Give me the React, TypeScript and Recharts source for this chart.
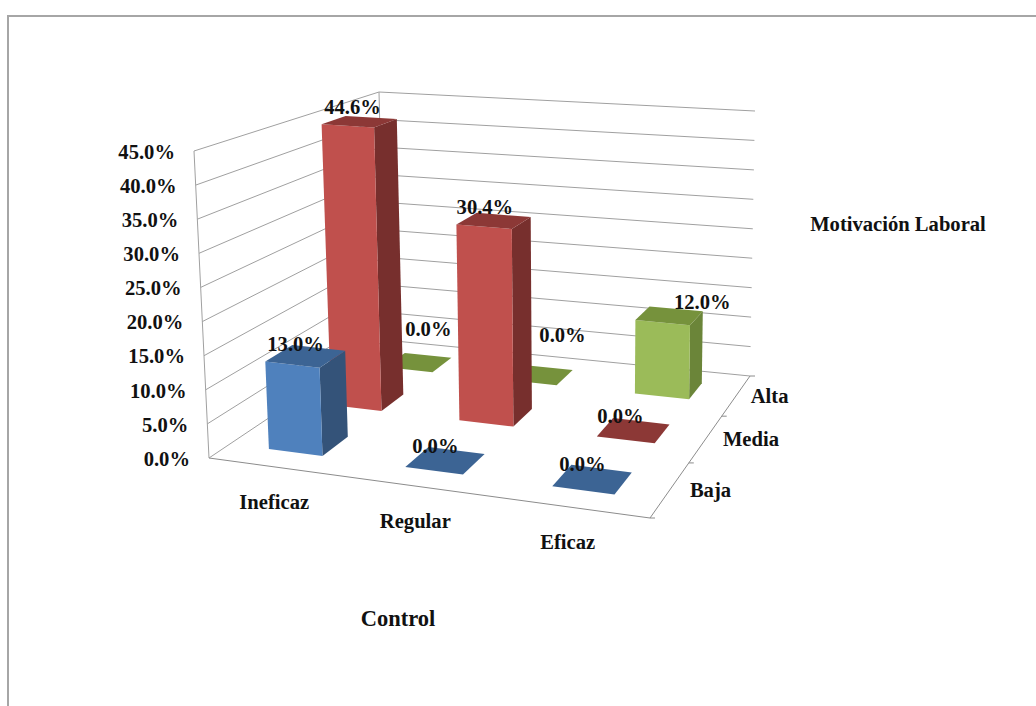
import { BarChart, Bar, XAxis, YAxis, CartesianGrid, LabelList } from "recharts";

const controlLevels = ["Ineficaz", "Regular", "Eficaz"];
const motivationLevels = ["Baja", "Media", "Alta"];
const bajaValues = [13.0, 0, 0];
const mediaValues = [44.6, 30.4, 0];
const altaValues = [0, 0, 12.0];
const yTicks = [0, 5, 10, 15, 20, 25, 30, 35, 40, 45];

const chartData = controlLevels.map((control, i) => ({
  control,
  depth: motivationLevels[i],
  Baja: bajaValues[i],
  Media: mediaValues[i],
  Alta: altaValues[i],
}));

// painted back to front so nearer boxes cover farther ones
const rows = [
  { key: "Alta", row: 2, front: "#9BBB59", side: "#6B8539", top: "#76923C" },
  { key: "Media", row: 1, front: "#C0504D", side: "#772F2D", top: "#8C3836" },
  { key: "Baja", row: 0, front: "#4F81BD", side: "#345379", top: "#3C6494" },
];

// label offset from the centre of a box's top face, by motivation row then control column
const labelOffsets: [number, number][][] = [
  [[-10, -10], [-10, -12], [-10, -13]],
  [[-7, -12], [-9, -11], [-13, -12]],
  [[10, -31], [23, -38], [33, -11]],
];

const PLOT = { left: 209, top: 151, width: 441, height: 307 };
const BAND = PLOT.width / controlLevels.length;
const BAR_SIZE = Math.round(BAND * 0.4);
const DEPTH_FILL = 0.41;
const TEXT = { fontFamily: "'Liberation Serif', serif", fontWeight: 700, fontSize: 20.6, fill: "#111" };

type Pt = [number, number];

// unit square -> quad, corners ordered front-left, front-right, back-right, back-left
const quadMap = ([p0, p1, p2, p3]: Pt[]) => {
  const dx1 = p1[0] - p2[0];
  const dx2 = p3[0] - p2[0];
  const sx = p0[0] - p1[0] + p2[0] - p3[0];
  const dy1 = p1[1] - p2[1];
  const dy2 = p3[1] - p2[1];
  const sy = p0[1] - p1[1] + p2[1] - p3[1];
  const den = dx1 * dy2 - dx2 * dy1;
  const g = (sx * dy2 - dx2 * sy) / den;
  const h = (dx1 * sy - sx * dy1) / den;
  const a = p1[0] - p0[0] + g * p1[0];
  const b = p3[0] - p0[0] + h * p3[0];
  const d = p1[1] - p0[1] + g * p1[1];
  const e = p3[1] - p0[1] + h * p3[1];
  return (u: number, v: number): Pt => {
    const w = g * u + h * v + 1;
    return [(a * u + b * v + p0[0]) / w, (d * u + e * v + p0[1]) / w];
  };
};

const floor = quadMap([[209, 458], [650, 518], [750, 376], [385, 340]]);
// how far the full value height reaches up from each floor corner
const rise: Pt[] = [[-15, -307], [4, -328], [5, -265], [-6, -248]];

// u along control, d along motivation, h along the value axis, all 0..1
const project = (u: number, d: number, h: number): Pt => {
  const base = floor(u, d);
  const weights = [(1 - u) * (1 - d), u * (1 - d), u * d, (1 - u) * d];
  const rx = weights.reduce((sum, w, i) => sum + w * rise[i][0], 0);
  const ry = weights.reduce((sum, w, i) => sum + w * rise[i][1], 0);
  return [base[0] + rx * h, base[1] + ry * h];
};

const poly = (pts: Pt[]) => pts.map((p) => `${p[0].toFixed(1)},${p[1].toFixed(1)}`).join(" ");

const boxRange = (x: number, width: number, height: number, row: number) => {
  const u0 = (x - PLOT.left) / PLOT.width;
  const u1 = (x + width - PLOT.left) / PLOT.width;
  const d0 = (row + (1 - DEPTH_FILL) / 2) / 3;
  const d1 = d0 + DEPTH_FILL / 3;
  return { u0, u1, d0, d1, h: height / PLOT.height };
};

const Box3D = ({ x, width, height, row, front, side, top }: any) => {
  const { u0, u1, d0, d1, h } = boxRange(x, width, height, row);
  return (
    <g>
      <polygon points={poly([project(u1, d0, 0), project(u1, d1, 0), project(u1, d1, h), project(u1, d0, h)])} fill={side} />
      <polygon points={poly([project(u0, d0, 0), project(u1, d0, 0), project(u1, d0, h), project(u0, d0, h)])} fill={front} />
      <polygon points={poly([project(u0, d0, h), project(u1, d0, h), project(u1, d1, h), project(u0, d1, h)])} fill={top} />
    </g>
  );
};

const BoxLabel = ({ x, width, height, value, row }: any) => {
  const { u0, u1, d0, d1, h } = boxRange(x, width, height, row);
  const [cx, cy] = project((u0 + u1) / 2, (d0 + d1) / 2, h);
  const [dx, dy] = labelOffsets[row][Math.floor((x - PLOT.left) / BAND)];
  return (
    <text {...TEXT} x={cx + dx} y={cy + dy} textAnchor="middle" dominantBaseline="middle">
      {`${Number(value).toFixed(1)}%`}
    </text>
  );
};

const WALL_LINE = "#a0a0a0";
const FLOOR_LINE = "#8c8c8c";

// each value gridline folds over the left wall and the back wall
const WallLine = ({ y1 }: any) => {
  const h = (PLOT.top + PLOT.height - y1) / PLOT.height;
  const line = (
    <polyline
      points={poly([project(0, 0, h), project(0, 1, h), project(1, 1, h)])}
      fill="none"
      stroke={WALL_LINE}
      strokeWidth={1}
    />
  );
  if (h > 0.999) {
    return (
      <g>
        {line}
        <polyline points={poly([project(0, 0, 1), project(0, 0, 0)])} fill="none" stroke={WALL_LINE} strokeWidth={1} />
        <polyline points={poly([project(0, 1, 1), project(0, 1, 0)])} fill="none" stroke={WALL_LINE} strokeWidth={1} />
      </g>
    );
  }
  if (h < 0.001) {
    return (
      <g>
        {line}
        <polyline points={poly([project(0, 0, 0), project(1, 0, 0), project(1, 1, 0)])} fill="none" stroke={FLOOR_LINE} strokeWidth={1} />
        {[0, 1 / 3, 2 / 3, 1].map((d) => {
          const p = project(1, d, 0);
          return <line key={d} x1={p[0]} y1={p[1]} x2={p[0] + 5} y2={p[1]} stroke={FLOOR_LINE} />;
        })}
      </g>
    );
  }
  return line;
};

const ValueTick = ({ y, payload }: any) => {
  const [px] = project(0, 0, (PLOT.top + PLOT.height - y) / PLOT.height);
  return (
    <text {...TEXT} x={px - 19} y={y + 3} textAnchor="end" dominantBaseline="middle">
      {`${payload.value.toFixed(1)}%`}
    </text>
  );
};

const ControlTick = ({ x, payload }: any) => {
  const [px, py] = project((x - PLOT.left) / PLOT.width, 0, 0);
  return (
    <text {...TEXT} x={px - 1.5} y={py + 37} textAnchor="middle" dominantBaseline="middle">
      {payload.value}
    </text>
  );
};

const DepthTick = ({ x, payload }: any) => {
  const d = (x - PLOT.left) / PLOT.width;
  const [px, py] = project(1, d, 0);
  return (
    <text {...TEXT} x={px + 21 - 8 * d} y={py + 2.5} textAnchor="start" dominantBaseline="middle">
      {payload.value}
    </text>
  );
};

export default function App() {
  return (
    <div style={{ position: "absolute", left: 0, top: 0, width: 1036, height: 706, overflow: "hidden", background: "#fff" }}>
      <div
        style={{
          position: "absolute",
          left: 7,
          top: 15,
          width: 1100,
          height: 800,
          borderTop: "2px solid #a6a6a6",
          borderLeft: "2px solid #a6a6a6",
        }}
      />
      <BarChart
        width={1036}
        height={706}
        data={chartData}
        barSize={BAR_SIZE}
        barGap={-BAR_SIZE}
        margin={{
          left: PLOT.left - 1,
          top: PLOT.top - 1,
          right: 1036 - PLOT.left - PLOT.width,
          bottom: 706 - PLOT.top - PLOT.height - 1,
        }}
        style={{ position: "absolute", left: 0, top: 0 }}
      >
        <CartesianGrid vertical={false} horizontal={(p: any) => <WallLine {...p} />} />
        <XAxis xAxisId="control" dataKey="control" height={1} axisLine={false} tickLine={false} interval={0} tick={(p: any) => <ControlTick {...p} />} />
        <XAxis xAxisId="depth" dataKey="depth" orientation="top" height={1} axisLine={false} tickLine={false} interval={0} tick={(p: any) => <DepthTick {...p} />} />
        <YAxis width={1} domain={[0, 45]} ticks={yTicks} axisLine={false} tickLine={false} interval={0} tick={(p: any) => <ValueTick {...p} />} />
        {rows.map(({ key, row, front, side, top }) => (
          <Bar
            key={key}
            xAxisId="control"
            dataKey={key}
            isAnimationActive={false}
            shape={(p: any) => <Box3D {...p} row={row} front={front} side={side} top={top} />}
          >
            <LabelList dataKey={key} content={(p: any) => <BoxLabel {...p} row={row} />} />
          </Bar>
        ))}
        <text {...TEXT} x={898} y={226} textAnchor="middle" dominantBaseline="middle">
          Motivación Laboral
        </text>
        <text {...TEXT} fontSize={22.5} x={398} y={621} textAnchor="middle" dominantBaseline="middle">
          Control
        </text>
      </BarChart>
    </div>
  );
}
